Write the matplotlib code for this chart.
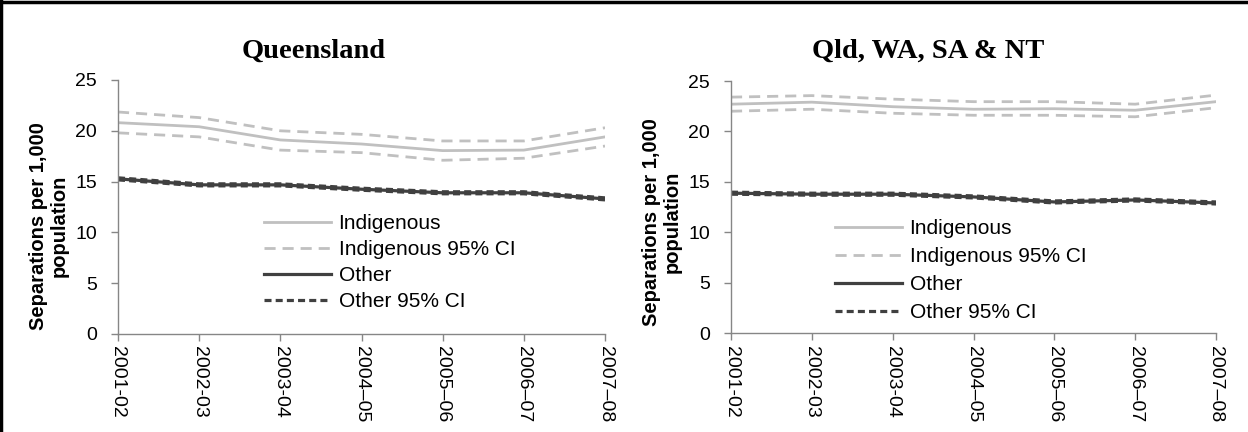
import matplotlib
matplotlib.use("Agg")
import matplotlib.pyplot as plt
from matplotlib.lines import Line2D

categories = ["2001-02", "2002-03", "2003-04", "2004\u201305", "2005\u201306", "2006\u201307", "2007\u201308"]

# Queensland
qld_ind = [20.8, 20.4, 19.1, 18.7, 18.05, 18.1, 19.4]
qld_ind_hi = [21.85, 21.3, 20.0, 19.65, 19.0, 19.0, 20.3]
qld_ind_lo = [19.8, 19.4, 18.1, 17.85, 17.1, 17.3, 18.5]
qld_oth = [15.27, 14.68, 14.68, 14.25, 13.9, 13.9, 13.3]
qld_oth_hi = [15.37, 14.78, 14.78, 14.35, 14.0, 14.0, 13.4]
qld_oth_lo = [15.17, 14.58, 14.58, 14.15, 13.8, 13.8, 13.2]

# Qld, WA, SA & NT
all_ind = [22.7, 22.9, 22.45, 22.2, 22.25, 22.1, 22.95]
all_ind_hi = [23.4, 23.55, 23.2, 22.95, 22.95, 22.7, 23.6]
all_ind_lo = [22.0, 22.2, 21.8, 21.6, 21.6, 21.45, 22.35]
all_oth = [13.87, 13.77, 13.77, 13.5, 13.0, 13.2, 12.9]
all_oth_hi = [13.97, 13.87, 13.87, 13.6, 13.1, 13.3, 13.0]
all_oth_lo = [13.77, 13.67, 13.67, 13.4, 12.9, 13.1, 12.8]

titles = ["Queensland", "Qld, WA, SA & NT"]
ylabel = "Separations per 1,000\npopulation"
legend_labels = ["Indigenous", "Indigenous 95% CI", "Other", "Other 95% CI"]

W, H = 1248, 432
fig = plt.figure(figsize=(W / 100, H / 100), dpi=100)
fig.patch.set_facecolor("white")

IND = "#C0C0C0"
OTH = "#404040"
AX = "#868686"
SANS = "Liberation Sans"

panels = [
    (titles[0], qld_ind, qld_ind_hi, qld_ind_lo, qld_oth, qld_oth_hi, qld_oth_lo,
     (118, 605), (80, 334), 314, (49, 226), (264, 214), 0.34),
    (titles[1], all_ind, all_ind_hi, all_ind_lo, all_oth, all_oth_hi, all_oth_lo,
     (731, 1216), (81, 333), 928, (662, 222), (835, 219), 0.44),
]

def px(xp, yp):
    return xp / W, 1 - yp / H

for (title, ind, ihi, ilo, oth, ohi, olo, (x0, x1), (y_top, y_bot), tx, (lbx, lby), (lx, ly), lsp) in panels:
    ax = fig.add_axes([x0 / W, 1 - y_bot / H, (x1 - x0) / W, (y_bot - y_top) / H])
    x = list(range(len(categories)))
    l1, = ax.plot(x, ind, color=IND, lw=2.0)
    l2, = ax.plot(x, ihi, color=IND, lw=2.0, ls=(0, (4, 2.5)))
    ax.plot(x, ilo, color=IND, lw=2.0, ls=(0, (4, 2.5)))
    l3, = ax.plot(x, oth, color=OTH, lw=2.3)
    l4, = ax.plot(x, ohi, color=OTH, lw=2.3, ls=(0, (2.2, 1.3)))
    ax.plot(x, olo, color=OTH, lw=2.3, ls=(0, (2.2, 1.3)))
    ax.set_xlim(0, 6)
    ax.set_ylim(0, 25)
    ax.set_yticks([0, 5, 10, 15, 20, 25])
    ax.set_xticks(x)
    ax.set_xticklabels(categories, rotation=270, fontsize=14, family=SANS, va="top", ha="center")
    for lab in ax.get_yticklabels():
        lab.set_fontsize(14)
        lab.set_family(SANS)
    ax.tick_params(axis="both", colors=AX, labelcolor="black", length=5, width=1)
    ax.tick_params(axis="x", pad=4)
    ax.tick_params(axis="y", pad=10)
    for s in ["top", "right"]:
        ax.spines[s].set_visible(False)
    for s in ["left", "bottom"]:
        ax.spines[s].set_color(AX)
        ax.spines[s].set_linewidth(1)
    fig.text(*px(tx, 51), title, fontsize=20.5, fontweight="bold", family="Liberation Serif",
             ha="center", va="center")
    fig.text(*px(lbx, lby), ylabel, fontsize=14.5, fontweight="bold", family=SANS,
             ha="center", va="center", rotation=90, linespacing=1.1, multialignment="center")
    fig.legend([l1, l2, l3, l4], legend_labels, loc="upper left",
               bbox_to_anchor=px(lx, ly), bbox_transform=fig.transFigure,
               frameon=False, prop={"family": SANS, "size": 15},
               handlelength=3.2, handletextpad=0.38, labelspacing=lsp,
               borderaxespad=0, borderpad=0)

# partial outer border (left and top edges)
fig.add_artist(Line2D([1.2 / W, 1.2 / W], [0, 1], color="black", lw=2.5, transform=fig.transFigure))
fig.add_artist(Line2D([0, 1], [1 - 1.5 / H, 1 - 1.5 / H], color="black", lw=2.5, transform=fig.transFigure))

fig.savefig("out.png", dpi=100)
